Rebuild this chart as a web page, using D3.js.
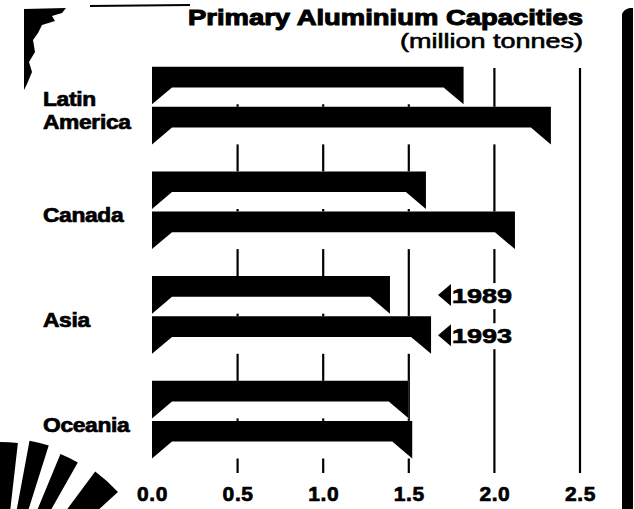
<!DOCTYPE html>
<html>
<head>
<meta charset="utf-8">
<script src="https://cdn.jsdelivr.net/npm/d3@7"></script>
<style>
  html, body { margin: 0; padding: 0; background: #fff; }
  svg { display: block; }
  text { font-family: "Liberation Sans", Arial, Helvetica, sans-serif; fill: #000; }
</style>
</head>
<body>
<svg id="chart" width="634" height="509"></svg>
<script>
// Primary aluminium capacities by region, million tonnes
const regions = ["Latin America", "Canada", "Asia", "Oceania"];
const regionLines = [["Latin", "America"], ["Canada"], ["Asia"], ["Oceania"]];
const years = ["1989", "1993"];
const cap1989 = [1.82, 1.60, 1.39, 1.50];
const cap1993 = [2.33, 2.12, 1.63, 1.52];
const tickValues = [0, 0.5, 1.0, 1.5, 2.0, 2.5];
const gridValues = [0.5, 1.0, 1.5, 2.0, 2.5];
const titleText = "Primary Aluminium Capacities";
const unitText = "(million tonnes)";

const rows = regions.map((r, i) => ({
  region: r,
  lines: regionLines[i],
  values: [
    { year: years[0], value: cap1989[i] },
    { year: years[1], value: cap1993[i] }
  ]
}));

const svg = d3.select("#chart");

const x = d3.scaleLinear().domain([0, 2.5]).range([152, 580]);
const yGroup = d3.scaleBand().domain(regions).range([66.7, 458.5])
  .paddingInner(0.258).paddingOuter(0);
const ySub = d3.scaleBand().domain(years).range([0, yGroup.bandwidth()])
  .paddingInner(0.0625);

const bandFrac = 0.55;   // share of the bar height taken by the solid band
const footW = 20;        // width of the slanted foot at each end

// right-hand border strip
svg.append("path")
  .attr("d", "M622,14 Q624,9 630,8 L633,8 L633,509 L622,509 Z")
  .attr("fill", "#000");

// top-left dark patch
svg.append("path")
  .attr("d", "M24,9 L66,8 L62,13 L52,16 L55,21 L42,25 L38,33 L33,40 L35,52 L29,62 L32,72 L27,84 L24,90 Z")
  .attr("fill", "#000");
svg.append("path")
  .attr("d", "M90,5 L190,4 L190,6 L90,7 Z")
  .attr("fill", "#000");

// sunburst rays in the lower-left corner
const rayAngles = [3, 14, 26, 40];
const rayArc = d3.arc().innerRadius(60).outerRadius(d => d.r);
svg.append("g")
  .attr("transform", "translate(0,600)")
  .selectAll("path")
  .data(rayAngles.map((a, i) => ({
    startAngle: (a - 3.5) * Math.PI / 180,
    endAngle: (a + 3.5 + (i === 3 ? 4 : 0)) * Math.PI / 180,
    r: [158, 162, 158, 160][i]
  })))
  .join("path")
  .attr("d", rayArc)
  .attr("fill", "#000");

// gridlines (sit behind the bars)
svg.append("g")
  .selectAll("line")
  .data(gridValues)
  .join("line")
  .attr("x1", d => x(d)).attr("x2", d => x(d))
  .attr("y1", 68).attr("y2", 473)
  .attr("stroke", "#000")
  .attr("stroke-width", 2.2);

// bars
const groups = svg.append("g")
  .selectAll("g")
  .data(rows)
  .join("g")
  .attr("transform", d => `translate(0,${yGroup(d.region)})`);

const bars = groups.selectAll("g.bar")
  .data(d => d.values)
  .join("g")
  .attr("class", "bar")
  .attr("transform", d => `translate(0,${ySub(d.year)})`);

const h = ySub.bandwidth();
const bh = h * bandFrac;

bars.append("rect")
  .attr("x", x(0))
  .attr("y", 0)
  .attr("width", d => x(d.value) - x(0))
  .attr("height", h)
  .attr("fill", "#fff");

bars.append("path")
  .attr("d", d => {
    const x0 = x(0), x1 = x(d.value);
    return `M${x0},0 H${x1} V${h} L${x1 - footW},${bh} H${x0 + footW} L${x0},${h} Z`;
  })
  .attr("fill", "#000");

// region labels (heavy, slightly widened type)
groups.each(function (d) {
  const g = d3.select(this);
  const cy = yGroup.bandwidth() / 2;
  const n = d.lines.length;
  d.lines.forEach((ln, i) => {
    const ty = cy + 12 + (i - (n - 1) / 2) * 23;
    g.append("text")
      .attr("transform", `translate(43,${ty}) scale(1.14,1)`)
      .attr("font-size", 20)
      .attr("font-weight", "bold")
      .attr("stroke", "#000").attr("stroke-width", 0.7)
      .attr("letter-spacing", -0.3)
      .text(ln);
  });
});

// x axis labels
const axis = d3.axisBottom(x)
  .tickValues(tickValues)
  .tickFormat(d3.format(".1f"))
  .tickSize(0)
  .tickPadding(0);
const axisG = svg.append("g")
  .attr("transform", "translate(0,486)")
  .call(axis);
axisG.select(".domain").remove();
axisG.selectAll("text")
  .attr("font-size", 21)
  .attr("font-weight", "bold")
  .attr("font-family", "\"Liberation Sans\", Arial, sans-serif")
  .attr("stroke", "#000").attr("stroke-width", 0.7)
  .attr("letter-spacing", 0.6)
  .attr("fill", "#000");

// year key
const key = svg.append("g");
years.forEach((yr) => {
  const ky = yGroup("Asia") + ySub(yr) + 19;
  const kg = key.append("g").attr("transform", `translate(437,${ky})`);
  kg.append("rect").attr("x", -2).attr("y", -12).attr("width", 80).attr("height", 26).attr("fill", "#fff");
  kg.append("path").attr("d", "M1,0 L14,-11 L14,11 Z").attr("fill", "#000");
  kg.append("text")
    .attr("x", 15).attr("y", 8)
    .attr("font-size", 21)
    .attr("font-weight", "bold")
    .attr("stroke", "#000").attr("stroke-width", 0.7)
    .attr("textLength", 60)
    .attr("lengthAdjust", "spacingAndGlyphs")
    .text(yr);
});

// title and unit
svg.append("text")
  .attr("x", 583).attr("y", 25)
  .attr("text-anchor", "end")
  .attr("font-size", 22)
  .attr("font-weight", "bold")
  .attr("stroke", "#000").attr("stroke-width", 1)
  .attr("textLength", 395)
  .attr("lengthAdjust", "spacingAndGlyphs")
  .text(titleText);

svg.append("text")
  .attr("x", 583).attr("y", 48)
  .attr("text-anchor", "end")
  .attr("font-size", 20)
  .attr("stroke", "#000").attr("stroke-width", 0.6)
  .attr("textLength", 183)
  .attr("lengthAdjust", "spacingAndGlyphs")
  .text(unitText);
</script>
</body>
</html>
